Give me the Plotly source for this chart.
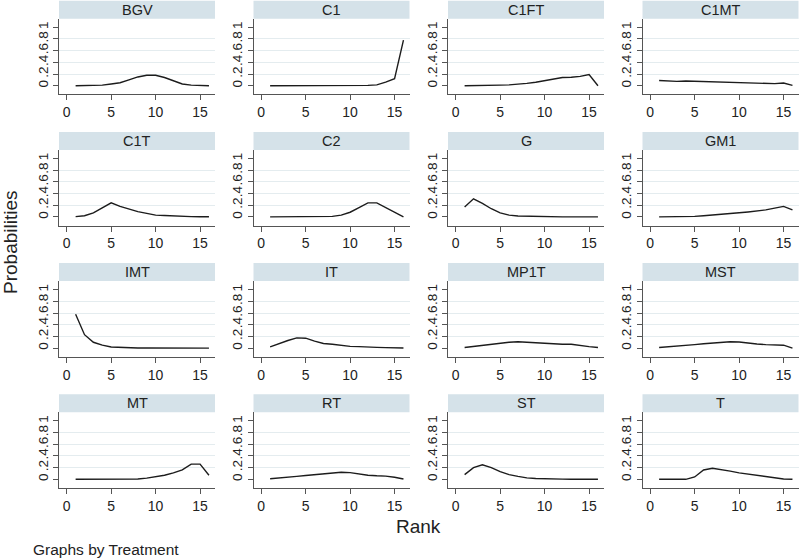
import plotly.graph_objects as go

# ---------------- data ----------------
rank = list(range(1, 17))
treatments = ["BGV", "C1", "C1FT", "C1MT", "C1T", "C2", "G", "GM1",
              "IMT", "IT", "MP1T", "MST", "MT", "RT", "ST", "T"]

bgv  = [0.0, 0.0, 0.005, 0.01, 0.03, 0.05, 0.10, 0.15, 0.18, 0.18, 0.14, 0.08, 0.03, 0.01, 0.0, 0.0]
c1   = [0.0, 0.0, 0.0, 0.0, 0.0, 0.0, 0.0, 0.0, 0.0, 0.0, 0.002, 0.005, 0.015, 0.06, 0.12, 0.78]
c1ft = [0.0, 0.0, 0.0, 0.005, 0.01, 0.015, 0.025, 0.04, 0.06, 0.09, 0.12, 0.14, 0.145, 0.16, 0.19, 0.0]
c1mt = [0.09, 0.08, 0.075, 0.08, 0.075, 0.08, 0.07, 0.065, 0.06, 0.055, 0.05, 0.045, 0.04, 0.035, 0.045, 0.005]
c1t  = [0.005, 0.02, 0.07, 0.16, 0.24, 0.18, 0.13, 0.09, 0.06, 0.03, 0.025, 0.015, 0.01, 0.005, 0.003, 0.002]
c2   = [0.0, 0.0, 0.0, 0.0, 0.0, 0.0, 0.0, 0.01, 0.03, 0.08, 0.16, 0.24, 0.24, 0.16, 0.07, 0.0]
g    = [0.17, 0.31, 0.23, 0.14, 0.07, 0.03, 0.015, 0.01, 0.005, 0.003, 0.002, 0.001, 0.0, 0.0, 0.0, 0.0]
gm1  = [0.0, 0.0, 0.003, 0.006, 0.01, 0.02, 0.03, 0.045, 0.06, 0.07, 0.085, 0.10, 0.12, 0.15, 0.18, 0.12]
imt  = [0.58, 0.23, 0.10, 0.05, 0.02, 0.01, 0.005, 0.002, 0.001, 0.0, 0.0, 0.0, 0.0, 0.0, 0.0, 0.0]
it   = [0.02, 0.08, 0.13, 0.175, 0.17, 0.12, 0.08, 0.065, 0.045, 0.03, 0.025, 0.015, 0.012, 0.008, 0.005, 0.003]
mp1t = [0.01, 0.03, 0.05, 0.07, 0.09, 0.10, 0.11, 0.10, 0.085, 0.08, 0.07, 0.065, 0.065, 0.04, 0.025, 0.01]
mst  = [0.01, 0.02, 0.035, 0.045, 0.06, 0.075, 0.085, 0.095, 0.11, 0.105, 0.085, 0.07, 0.06, 0.055, 0.05, 0.0]
mt   = [0.0, 0.0, 0.0, 0.0, 0.0, 0.0, 0.0, 0.005, 0.02, 0.04, 0.07, 0.11, 0.16, 0.26, 0.26, 0.07]
rt   = [0.01, 0.02, 0.035, 0.05, 0.065, 0.08, 0.095, 0.11, 0.12, 0.115, 0.09, 0.07, 0.06, 0.055, 0.035, 0.005]
st   = [0.08, 0.20, 0.25, 0.20, 0.13, 0.08, 0.05, 0.025, 0.015, 0.008, 0.005, 0.003, 0.002, 0.001, 0.0, 0.0]
t    = [0.0, 0.0, 0.0, 0.0, 0.04, 0.16, 0.19, 0.17, 0.14, 0.11, 0.09, 0.065, 0.045, 0.025, 0.005, 0.0]

values = [bgv, c1, c1ft, c1mt, c1t, c2, g, gm1, imt, it, mp1t, mst, mt, rt, st, t]

x_ticks = [0, 5, 10, 15]
y_ticks = [0, 0.2, 0.4, 0.6, 0.8, 1]
y_ticktext = ["0", ".2", ".4", ".6", ".8", "1"]
y_grid = [0.2, 0.4, 0.6, 0.8]

# ---------------- layout ----------------
W, H = 800, 559
FONT = "Liberation Sans, Arial, Helvetica, sans-serif"
STRIP = "#D5E2E9"
GRID = "#E4ECEF"
AXIS = "#555555"
TXT = "#222222"

fig = go.Figure()
layout = {}
shapes = []
annotations = []

for i, (name, vals) in enumerate(zip(treatments, values)):
    r, c = divmod(i, 4)
    y0 = 85.7 + 131.2 * r
    x0 = 66.7 + 194.5 * c
    left = x0 - 7.7
    right = min(left + 156, W)
    top = y0 - 67
    bottom = y0 + 8.6
    hdr_top = y0 - 85
    idx = "" if i == 0 else str(i + 1)

    fig.add_trace(go.Scatter(
        x=rank, y=vals, mode="lines",
        line=dict(color="#1c1c1c", width=1.4),
        xaxis="x" + idx, yaxis="y" + idx, showlegend=False,
        hoverinfo="x+y"))

    layout["xaxis" + idx] = dict(
        domain=[left / W, right / W], anchor="y" + idx,
        range=[-0.87, 16.68], tickmode="array", tickvals=x_ticks,
        ticks="outside", ticklen=5, tickcolor=AXIS, tickwidth=1,
        showline=True, linecolor=AXIS, linewidth=1,
        showgrid=False, zeroline=False,
        tickfont=dict(family=FONT, size=14, color=TXT))
    layout["yaxis" + idx] = dict(
        domain=[1 - bottom / H, 1 - top / H], anchor="x" + idx,
        range=[-0.147, 1.147], tickmode="array", tickvals=y_ticks,
        ticktext=y_ticktext, tickangle=-90,
        ticks="outside", ticklen=5, tickcolor=AXIS, tickwidth=1,
        showline=True, linecolor=AXIS, linewidth=1,
        showgrid=False, zeroline=False,
        minor=dict(tickmode="array", tickvals=y_grid, showgrid=True,
                   gridcolor=GRID, gridwidth=1, ticks=""),
        tickfont=dict(family=FONT, size=13.5, color=TXT))

    shapes.append(dict(type="rect", xref="paper", yref="paper",
                       x0=left / W, x1=right / W,
                       y0=1 - top / H, y1=1 - hdr_top / H,
                       fillcolor=STRIP, line=dict(width=0), layer="below"))
    annotations.append(dict(text=name, xref="paper", yref="paper",
                            x=(left + right) / 2 / W,
                            y=1 - (hdr_top + top) / 2 / H,
                            xanchor="center", yanchor="middle", showarrow=False,
                            font=dict(family=FONT, size=14.5, color=TXT)))

annotations.append(dict(text="Probabilities", xref="paper", yref="paper",
                        x=11 / W, y=1 - 242 / H, textangle=-90,
                        xanchor="center", yanchor="middle", showarrow=False,
                        font=dict(family=FONT, size=19, color=TXT)))
annotations.append(dict(text="Rank", xref="paper", yref="paper",
                        x=418 / W, y=1 - 526 / H,
                        xanchor="center", yanchor="middle", showarrow=False,
                        font=dict(family=FONT, size=19, color=TXT)))
annotations.append(dict(text="Graphs by Treatment", xref="paper", yref="paper",
                        x=31 / W, y=1 - 549 / H,
                        xanchor="left", yanchor="middle", showarrow=False,
                        font=dict(family=FONT, size=15.5, color=TXT)))

fig.update_layout(
    width=W, height=H,
    margin=dict(l=0, r=0, t=0, b=0),
    paper_bgcolor="white", plot_bgcolor="white",
    shapes=shapes, annotations=annotations,
    **layout)

fig.write_html(
    "out.html",
    config={"displayModeBar": False},
    post_script="document.body.style.margin='0';document.body.style.overflow='hidden';")
